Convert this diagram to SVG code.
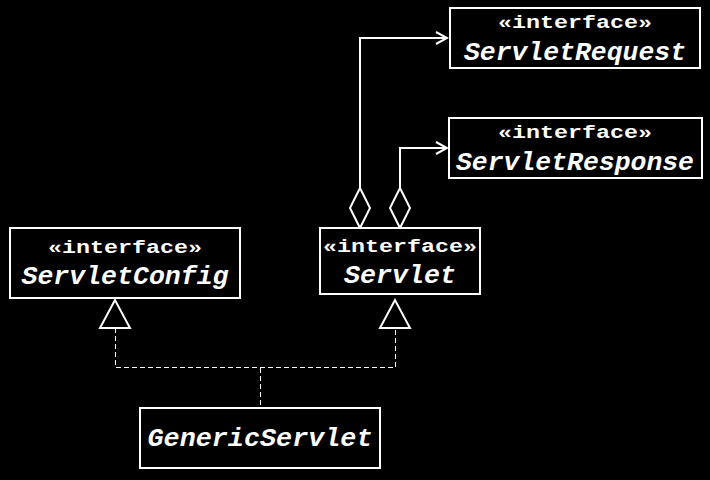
<svg xmlns="http://www.w3.org/2000/svg" width="710" height="480" viewBox="0 0 710 480">
<style>
.box{fill:#000;stroke:#fff;stroke-width:2}
.st{font-family:"Liberation Mono","Courier New",monospace;font-weight:bold;font-size:19px;fill:#fff;text-anchor:middle}
.nm{font-family:"Liberation Mono","Courier New",monospace;font-weight:bold;font-style:italic;font-size:26px;fill:#fff;text-anchor:middle}
.ln{fill:none;stroke:#fff;stroke-width:2}
.dash{fill:none;stroke:#fff;stroke-width:1;stroke-dasharray:5,3}
</style>
<defs>
<marker id="open" markerWidth="14" markerHeight="14" refX="12" refY="7" orient="auto" markerUnits="userSpaceOnUse">
<path d="M1,1 L12,7 L1,13" fill="none" stroke="#fff" stroke-width="2"/>
</marker>
</defs>
<rect width="710" height="480" fill="#000"/>
<g id="connectors">
<path class="ln" d="M360,188 V38 H447" marker-end="url(#open)"/>
<path class="ln" d="M400,188 V148 H447" marker-end="url(#open)"/>
<path class="ln" d="M360,228 L350,208 L360,188 L370,208 Z"/>
<path class="ln" d="M400,228 L390,208 L400,188 L410,208 Z"/>
<path class="dash" d="M115.5,328 V367.5 H395.5 V328"/>
<path class="dash" d="M260.5,368 V407"/>
<path class="ln" d="M115,300 L100,328 H130 Z"/>
<path class="ln" d="M395,300 L380,328 H410 Z"/>
</g>
<g id="ServletRequest">
<rect class="box" x="450" y="8" width="250" height="60"/>
<text class="st" x="575" y="28" textLength="154" lengthAdjust="spacingAndGlyphs">«interface»</text>
<text class="nm" x="575" y="60" textLength="222" lengthAdjust="spacingAndGlyphs">ServletRequest</text>
</g>
<g id="ServletResponse">
<rect class="box" x="449" y="118" width="253" height="60"/>
<text class="st" x="575" y="138" textLength="154" lengthAdjust="spacingAndGlyphs">«interface»</text>
<text class="nm" x="575" y="170" textLength="238" lengthAdjust="spacingAndGlyphs">ServletResponse</text>
</g>
<g id="ServletConfig">
<rect class="box" x="10" y="228" width="230" height="70"/>
<text class="st" x="125" y="253" textLength="154" lengthAdjust="spacingAndGlyphs">«interface»</text>
<text class="nm" x="125" y="284" textLength="207" lengthAdjust="spacingAndGlyphs">ServletConfig</text>
</g>
<g id="Servlet">
<rect class="box" x="320" y="228" width="160" height="66"/>
<text class="st" x="400" y="252" textLength="154" lengthAdjust="spacingAndGlyphs">«interface»</text>
<text class="nm" x="400" y="283" textLength="112" lengthAdjust="spacingAndGlyphs">Servlet</text>
</g>
<g id="GenericServlet">
<rect class="box" x="140" y="408" width="240" height="60"/>
<text class="nm" x="260" y="446" textLength="225" lengthAdjust="spacingAndGlyphs">GenericServlet</text>
</g>
</svg>
